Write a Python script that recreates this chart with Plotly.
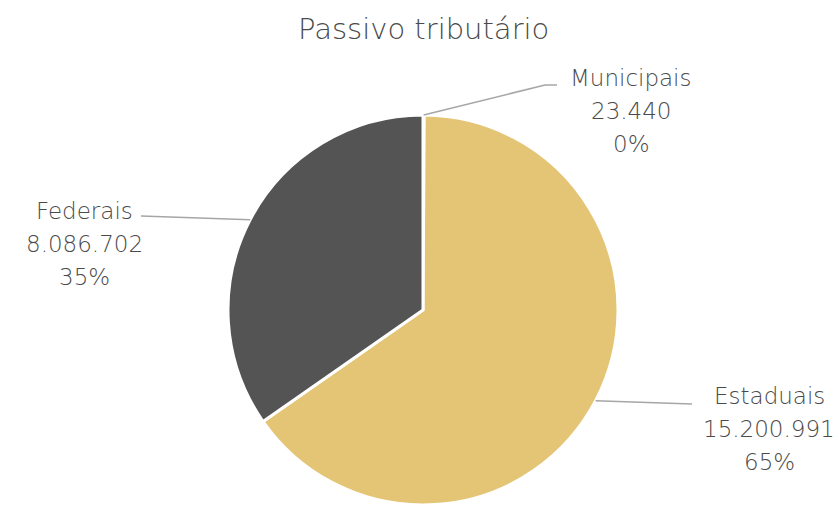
import math
import plotly.graph_objects as go

labels = ["Municipais", "Estaduais", "Federais"]
values = [23440, 15200991, 8086702]
colors = ["#8C8C8C", "#E4C576", "#545454"]
title_text = "Passivo tributário"

W, H = 838, 505
cx, cy, R = 423, 310, 195
FONT = "DejaVu Sans"

# label first-line centers (pixels) and leader line ends
label_pos = {"Municipais": (631, 78), "Federais": (84, 211), "Estaduais": (769, 396)}
line_gap = 33
line_end = {"Municipais": [(545, 85), (557, 85)],
            "Federais": [(141, 216)],
            "Estaduais": [(692, 404)]}

def fmt(v):
    return f"{v:,}".replace(",", ".")

def px(x, y):
    return x / W, 1 - y / H

fig = go.Figure()
fig.add_trace(go.Pie(
    labels=labels, values=values, sort=False, direction="clockwise", rotation=0,
    marker=dict(colors=colors, line=dict(color="white", width=3)),
    textinfo="none", hoverinfo="label+value+percent", showlegend=False,
    domain=dict(x=[(cx - R) / W, (cx + R) / W], y=[0, 2 * R / H]),
))

total = sum(values)
cum = 0
shapes = []
annotations = []
for lab, v in zip(labels, values):
    frac = v / total
    mid = (cum + frac / 2) * 2 * math.pi
    cum += frac
    sx, sy = cx + R * math.sin(mid), cy - R * math.cos(mid)
    pts = [(sx, sy)] + line_end[lab]
    path = "M " + " L ".join(f"{px(a, b)[0]:.5f},{px(a, b)[1]:.5f}" for a, b in pts)
    shapes.append(dict(type="path", xref="paper", yref="paper", path=path,
                       line=dict(color="#A6A6A6", width=1.5)))
    pct = round(frac * 100)
    x0, y0 = label_pos[lab]
    for i, t in enumerate([lab, fmt(v), f"{pct}%"]):
        lx, ly = px(x0, y0 + i * line_gap)
        annotations.append(dict(
            x=lx, y=ly, xref="paper", yref="paper", xanchor="center", yanchor="middle",
            text=t, showarrow=False,
            font=dict(family=FONT, size=23, color="#4A4A4A", weight=200),
        ))

tx, ty = px(423, 29)
annotations.append(dict(
    x=tx, y=ty, xref="paper", yref="paper",
    xanchor="center", yanchor="middle", text=title_text, showarrow=False,
    font=dict(family=FONT, size=29, color="#4A4A4A", weight=200),
))

fig.update_layout(
    width=W, height=H, margin=dict(l=0, r=0, t=0, b=0),
    paper_bgcolor="white", plot_bgcolor="white",
    shapes=shapes, annotations=annotations,
)
fig.write_html("out.html", config={"displayModeBar": False},
               post_script="document.body.style.margin='0';document.body.style.overflow='hidden';")
